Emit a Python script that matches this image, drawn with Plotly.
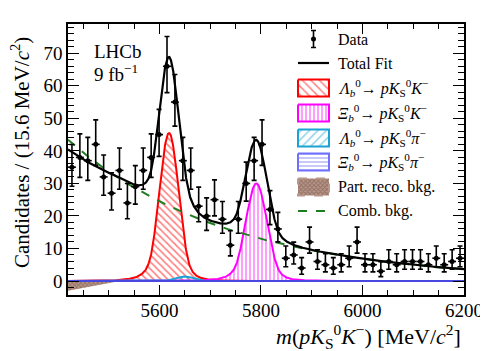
import numpy as np
import plotly.graph_objects as go

# ---------------- data ----------------
mass_lo, mass_hi = 5420.0, 6200.0
bin_width = 15.6
counts = [35, 38, 37, 42, 32, 27, 34, 24, 29, 34,
          38, 45, 66, 55, 37, 34, 23, 20, 25, 19,
          11, 19, 30, 37, 42, 22, 16, 7, 8, 4,
          12, 6, 5, 4, 5, 7, 12, 5, 5, 3,
          6, 5, 6, 6, 6, 5, 7, 5, 6, 7]
x_ticks = [5600, 5800, 6000, 6200]
y_ticks = [0, 10, 20, 30, 40, 50, 60, 70]

# fitted model parameters (heights in candidates per bin)
comb_norm, comb_slope = 43.4, 0.00318
lb_pkk = dict(peak=45.5, mean=5619.0, sigma=19.0, aL=1.8, nL=3.0, aR=2.0, nR=3.0)
xb_pkk = dict(peak=30.0, mean=5791.0, sigma=21.0, aL=1.8, nL=3.0, aR=2.0, nR=3.0)
lb_pkpi = dict(peak=1.4, mean=5650.0, sigma=17.0, aL=1.8, nL=3.0, aR=2.0, nR=3.0)
xb_pkpi = dict(peak=0.0, mean=5825.0, sigma=20.0, aL=1.8, nL=3.0, aR=2.0, nR=3.0)
part_norm, part_end, part_pow = -3.0, 5515.0, 0.9

legend_labels = [
    "Data", "Total Fit",
    "<i>Λ</i><sub><i>b</i></sub><sup>0</sup>→ <i>pK</i><sub>S</sub><sup>0</sup><i>K</i><sup>−</sup>",
    "<i>Ξ</i><sub><i>b</i></sub><sup>0</sup>→ <i>pK</i><sub>S</sub><sup>0</sup><i>K</i><sup>−</sup>",
    "<i>Λ</i><sub><i>b</i></sub><sup>0</sup>→ <i>pK</i><sub>S</sub><sup>0</sup><i>π</i><sup>−</sup>",
    "<i>Ξ</i><sub><i>b</i></sub><sup>0</sup>→ <i>pK</i><sub>S</sub><sup>0</sup><i>π</i><sup>−</sup>",
    "Part. reco. bkg.", "Comb. bkg.",
]

# ---------------- model ----------------
def dscb(m, peak, mean, sigma, aL, nL, aR, nR):
    t = (m - mean) / sigma
    out = np.exp(-0.5 * t * t)
    l = t < -aL
    r = t > aR
    AL = (nL / aL) ** nL * np.exp(-0.5 * aL * aL)
    AR = (nR / aR) ** nR * np.exp(-0.5 * aR * aR)
    out[l] = AL / (nL / aL - aL - t[l]) ** nL
    out[r] = AR / (nR / aR - aR + t[r]) ** nR
    return peak * out

m = np.linspace(mass_lo, mass_hi, 1561)
comb = comb_norm * np.exp(-comb_slope * (m - mass_lo))
lb = dscb(m, **lb_pkk)
xb = dscb(m, **xb_pkk)
lbpi = dscb(m, **lb_pkpi)
xbpi = dscb(m, **xb_pkpi)
part = np.where(m < part_end,
                part_norm * np.clip(1 - (m - mass_lo) / (part_end - mass_lo), 0, None) ** part_pow, 0.0)
total = comb + lb + xb + lbpi + xbpi + part

centers = mass_lo + bin_width * (np.arange(len(counts)) + 0.5)
N = np.array(counts, dtype=float)
err_up = np.sqrt(N + 0.75) + 1.0
err_dn = np.sqrt(np.clip(N - 0.25, 0, None))

FONT = "Liberation Serif, Times New Roman, serif"
RED, MAG, CYAN, BLUE = "#ff0000", "#ff00ff", "#1ca3d4", "#4848e0"
BROWN_FG, BROWN_BG = "#6e4a3c", "#b8978a"
GREEN = "#1e7d1e"
CLEAR = "rgba(0,0,0,0)"

fig = go.Figure()

def area(y, color, shape, size, sol, width=2.0):
    fig.add_trace(go.Scatter(
        x=m, y=y, mode="lines", fill="tozeroy", fillcolor=CLEAR,
        fillpattern=dict(shape=shape, fgcolor=color, bgcolor=CLEAR, size=size, solidity=sol),
        line=dict(color=color, width=width), showlegend=False, hoverinfo="skip"))

fig.add_trace(go.Scatter(
    x=m, y=part, mode="lines", fill="tozeroy", fillcolor=BROWN_BG,
    fillpattern=dict(shape="x", fgcolor=BROWN_FG, bgcolor=BROWN_BG, size=3, solidity=0.5),
    line=dict(width=0, color=BROWN_FG), showlegend=False, hoverinfo="skip"))
area(lb, RED, "\\", 5, 0.33)
area(xb, MAG, "|", 4, 0.38)
area(lbpi, CYAN, "/", 5, 0.3)
area(xbpi, BLUE, "-", 4, 0.3)
fig.add_trace(go.Scatter(x=m, y=comb, mode="lines",
                         line=dict(color=GREEN, width=2, dash="dash"),
                         showlegend=False, hoverinfo="skip"))
fig.add_trace(go.Scatter(x=m, y=total, mode="lines",
                         line=dict(color="black", width=2.2),
                         showlegend=False, hoverinfo="skip"))
fig.add_trace(go.Scatter(
    x=centers, y=counts, mode="markers",
    marker=dict(color="black", size=5),
    error_y=dict(type="data", symmetric=False, array=err_up, arrayminus=err_dn,
                 color="black", thickness=1.6, width=2.5),
    error_x=dict(type="constant", value=bin_width / 2, color="black", thickness=1.6, width=0),
    showlegend=False, hoverinfo="skip"))

# ---------------- layout geometry (page pixels; page body has an 8px margin) ----------------
BODY = 8
FIG_W, FIG_H = 488 - BODY, 351 - BODY
PX_L, PX_R, PX_T, PX_B = 68, 464, 24, 295

def paper_x(px):
    return (px - PX_L) / (PX_R - PX_L)

def paper_y(py):
    return (PX_B - py) / (PX_B - PX_T)

# legend symbols drawn in a helper axis whose units are page pixels
rows_y = [39, 63, 88, 113, 138, 162, 187, 211]
bx0, bx1, bh = 298, 329, 8.5

fig.add_trace(go.Scatter(x=[313.5], y=[rows_y[0]], xaxis="x2", yaxis="y2", mode="markers",
                         marker=dict(color="black", size=5),
                         error_y=dict(type="constant", value=8.5, color="black", thickness=1.6, width=2.5),
                         showlegend=False, hoverinfo="skip"))
fig.add_trace(go.Scatter(x=[bx0, bx1], y=[rows_y[1]] * 2, xaxis="x2", yaxis="y2", mode="lines",
                         line=dict(color="black", width=2.2), showlegend=False, hoverinfo="skip"))
box_styles = [(RED, "\\", 6, 0.25, CLEAR, RED),
              (MAG, "|", 4, 0.38, CLEAR, MAG),
              (CYAN, "/", 6, 0.25, CLEAR, CYAN),
              (BLUE, "-", 4, 0.3, CLEAR, "#7070ff"),
              (BROWN_FG, "x", 3, 0.5, BROWN_BG, BROWN_BG)]
for k, (fg, shp, sz, sol, bg, lc) in enumerate(box_styles):
    yc = rows_y[2 + k]
    fig.add_trace(go.Scatter(
        x=[bx0, bx1, bx1, bx0, bx0], y=[yc - bh, yc - bh, yc + bh, yc + bh, yc - bh],
        xaxis="x2", yaxis="y2", mode="lines", fill="toself", fillcolor=bg,
        fillpattern=dict(shape=shp, fgcolor=fg, bgcolor=bg, size=sz, solidity=sol),
        line=dict(color=lc, width=2, dash="dash" if k == 4 else "solid"),
        showlegend=False, hoverinfo="skip"))
fig.add_trace(go.Scatter(x=[bx0, bx1], y=[rows_y[7]] * 2, xaxis="x2", yaxis="y2", mode="lines",
                         line=dict(color=GREEN, width=2, dash="dash"), showlegend=False, hoverinfo="skip"))

def label(px, py, text, size, xanchor="left", yanchor="middle", angle=0):
    return dict(x=paper_x(px), y=paper_y(py), xref="paper", yref="paper", text=text,
                showarrow=False, xanchor=xanchor, yanchor=yanchor, textangle=angle,
                font=dict(family=FONT, size=size, color="black"))

annotations = [label(336, yc, lab, 16) for yc, lab in zip(rows_y, legend_labels)]
annotations += [
    label(92, 51, "LHCb", 19),
    label(92, 73, "9 fb<sup>−1</sup>", 19),
    label(463, 336,
          "<i>m</i>(<i>pK</i><sub>S</sub><sup>0</sup><i>K</i><sup>−</sup>) [MeV/<i>c</i><sup>2</sup>]",
          22, xanchor="right"),
    label(20, 153, "Candidates / (15.6 MeV/<i>c</i><sup>2</sup>)", 21,
          xanchor="center", yanchor="middle", angle=-90),
]

axis_common = dict(showline=True, linecolor="black", linewidth=1.6, mirror="allticks",
                   ticks="inside", tickcolor="black", tickwidth=1.3, showgrid=False, zeroline=False,
                   automargin=False, tickfont=dict(family=FONT, size=19, color="black"))
fig.update_layout(
    width=FIG_W, height=FIG_H, autosize=False,
    margin=dict(l=PX_L - BODY, r=488 - PX_R, t=PX_T - BODY, b=351 - PX_B, pad=0),
    paper_bgcolor="white", plot_bgcolor="white",
    xaxis=dict(range=[mass_lo, mass_hi], tickvals=x_ticks, ticklen=10, ticklabelstandoff=-3,
               minor=dict(dtick=50, tick0=5400, ticks="inside", ticklen=5, tickcolor="black", tickwidth=1.3),
               **axis_common),
    yaxis=dict(range=[-4.3, 79], tickvals=y_ticks, ticklen=11,
               minor=dict(dtick=2, tick0=0, ticks="inside", ticklen=6, tickcolor="black", tickwidth=1.3),
               **axis_common),
    xaxis2=dict(range=[PX_L, PX_R], overlaying="x", visible=False, fixedrange=True),
    yaxis2=dict(range=[PX_B, PX_T], overlaying="y", visible=False, fixedrange=True),
    annotations=annotations,
    showlegend=False,
)
fig.write_html("out.html")
